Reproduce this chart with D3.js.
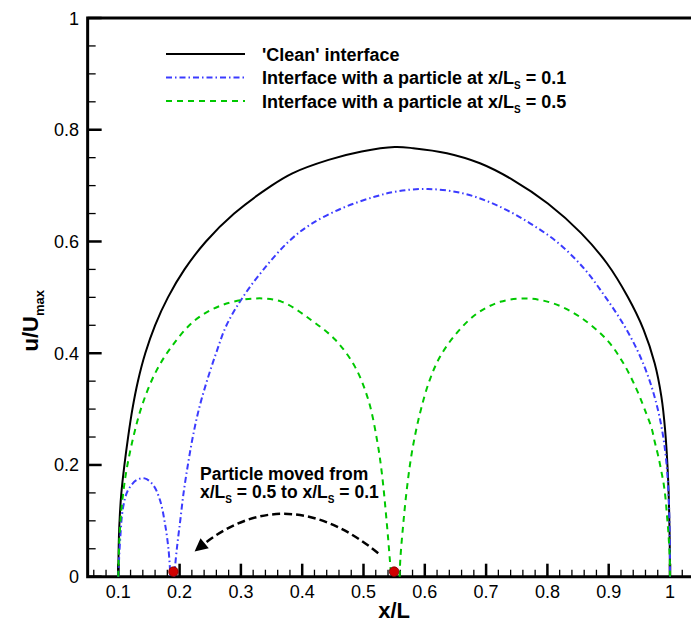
<!DOCTYPE html>
<html>
<head>
<meta charset="utf-8">
<script src="https://cdn.jsdelivr.net/npm/d3@7"></script>
<style>
  html, body { margin: 0; padding: 0; background: #fff; }
  svg { display: block; font-family: "Liberation Sans", Arial, sans-serif; }
</style>
</head>
<body>
<svg id="chart" width="691" height="627"></svg>
<script>
// Velocity profiles u/Umax across the interface, x/L from 0.1 to 1
const cleanProfile = [
  [0.100, 0.000], [0.1003, 0.030], [0.101, 0.070], [0.1025, 0.110], [0.105, 0.150],
  [0.110, 0.200], [0.116, 0.250], [0.123, 0.300], [0.132, 0.350], [0.144, 0.400],
  [0.160, 0.450], [0.181, 0.500], [0.208, 0.550], [0.243, 0.600], [0.289, 0.650],
  [0.350, 0.700], [0.384, 0.722], [0.443, 0.746], [0.497, 0.761], [0.551, 0.769],
  [0.581, 0.767], [0.636, 0.758], [0.690, 0.740], [0.744, 0.710], [0.8007, 0.668],
  [0.855, 0.615], [0.897, 0.561], [0.931, 0.501], [0.957, 0.442], [0.975, 0.382],
  [0.986, 0.322], [0.992, 0.263], [0.997, 0.173], [0.9993, 0.080], [1.000, 0.000]
];

const particleAt01 = [
  [0.100, 0.000], [0.103, 0.066], [0.108, 0.125], [0.116, 0.155], [0.130, 0.173],
  [0.143, 0.176], [0.157, 0.164], [0.168, 0.137], [0.176, 0.096], [0.182, 0.048],
  [0.185, 0.000], [0.191, 0.000],
  [0.1955, 0.050], [0.201, 0.100], [0.2065, 0.150], [0.2135, 0.200], [0.2215, 0.250],
  [0.2315, 0.300], [0.2445, 0.350], [0.2595, 0.400], [0.2765, 0.450], [0.303, 0.500],
  [0.337, 0.550], [0.378, 0.600], [0.413, 0.630], [0.466, 0.660], [0.518, 0.680],
  [0.556, 0.690], [0.605, 0.694], [0.663, 0.686], [0.717, 0.665], [0.771, 0.633],
  [0.818, 0.597], [0.861, 0.550], [0.895, 0.500], [0.925, 0.450], [0.949, 0.400],
  [0.967, 0.350], [0.980, 0.300], [0.989, 0.250], [0.9945, 0.200], [0.9975, 0.150],
  [0.9991, 0.100], [0.9998, 0.050], [1.000, 0.000]
];

const particleAt05 = [
  [0.100, 0.000], [0.1015, 0.060], [0.1055, 0.125], [0.1125, 0.185], [0.1235, 0.245],
  [0.138, 0.304], [0.160, 0.364], [0.187, 0.412], [0.225, 0.459], [0.269, 0.486],
  [0.323, 0.498], [0.367, 0.492], [0.415, 0.459], [0.454, 0.424], [0.486, 0.376],
  [0.508, 0.316], [0.522, 0.245], [0.530, 0.185], [0.538, 0.096], [0.543, 0.030],
  [0.545, 0.000], [0.559, 0.000],
  [0.560, 0.030], [0.5645, 0.090], [0.5705, 0.155], [0.579, 0.223], [0.592, 0.292],
  [0.608, 0.352], [0.625, 0.394], [0.652, 0.436], [0.685, 0.471], [0.723, 0.492],
  [0.766, 0.498], [0.810, 0.489], [0.853, 0.465], [0.897, 0.424], [0.924, 0.382],
  [0.946, 0.334], [0.962, 0.290], [0.970, 0.266], [0.975, 0.242], [0.981, 0.215],
  [0.986, 0.188], [0.990, 0.164], [0.993, 0.137], [0.995, 0.110], [0.997, 0.084],
  [0.9995, 0.036], [1.000, 0.000]
];

// Particle positions on the interface
const particles = [[0.19, 0.009], [0.55, 0.009]];

// Axis ticks
const xMajorTicks = [0.1, 0.2, 0.3, 0.4, 0.5, 0.6, 0.7, 0.8, 0.9, 1.0];
const xTickLabels = ["0.1", "0.2", "0.3", "0.4", "0.5", "0.6", "0.7", "0.8", "0.9", "1"];
const yMajorTicks = [0, 0.2, 0.4, 0.6, 0.8, 1.0];
const yTickLabels = ["0", "0.2", "0.4", "0.6", "0.8", "1"];

const legendLabels = [
  { main: "'Clean' interface", sub: null, tail: "" },
  { main: "Interface with a particle at x/L", sub: "S", tail: " = 0.1" },
  { main: "Interface with a particle at x/L", sub: "S", tail: " = 0.5" }
];

const svg = d3.select("#chart");

const x = d3.scaleLinear().domain([0.05, 1.05]).range([87.65, 700.65]);
const y = d3.scaleLinear().domain([0, 1]).range([576.7, 18]);

const xMinor = d3.range(0.06, 1.05, 0.02).filter(v => Math.abs(v * 10 - Math.round(v * 10)) > 1e-6);
const yMinor = d3.range(0.05, 1.0, 0.05).filter(v => Math.abs(v * 5 - Math.round(v * 5)) > 1e-6);

// Ticks (drawn inward)
const gTicks = svg.append("g").attr("stroke", "#000");
gTicks.selectAll("line.xmaj").data(xMajorTicks).join("line")
  .attr("x1", d => x(d)).attr("x2", d => x(d))
  .attr("y1", y(0)).attr("y2", y(0) - 13).attr("stroke-width", 2.5);
gTicks.selectAll("line.xmin").data(xMinor).join("line")
  .attr("x1", d => x(d)).attr("x2", d => x(d))
  .attr("y1", y(0)).attr("y2", y(0) - 7).attr("stroke-width", 1.3);
gTicks.selectAll("line.ymaj").data(yMajorTicks).join("line")
  .attr("x1", x(0.05)).attr("x2", x(0.05) + 14)
  .attr("y1", d => y(d)).attr("y2", d => y(d)).attr("stroke-width", 2.5);
gTicks.selectAll("line.ymin").data(yMinor).join("line")
  .attr("x1", x(0.05)).attr("x2", x(0.05) + 8)
  .attr("y1", d => y(d)).attr("y2", d => y(d)).attr("stroke-width", 1.3);

// Frame: left, top and bottom
const frame = svg.append("g").attr("stroke", "#000").attr("stroke-width", 3).attr("fill", "none");
frame.append("path").attr("d", `M${x(1.05)},${y(1)}H${x(0.05)}V${y(0)}H${x(1.05)}`)
  .attr("stroke-linecap", "square");

// Tick labels
svg.append("g").selectAll("text").data(xMajorTicks).join("text")
  .attr("x", d => x(d)).attr("y", 598)
  .attr("text-anchor", "middle").attr("font-size", 18)
  .text((d, i) => xTickLabels[i]);
svg.append("g").selectAll("text").data(yMajorTicks).join("text")
  .attr("x", 79).attr("y", d => y(d) + 6.5)
  .attr("text-anchor", "end").attr("font-size", 18)
  .text((d, i) => yTickLabels[i]);

// Axis titles
svg.append("text").attr("x", x(0.55)).attr("y", 618)
  .attr("text-anchor", "middle").attr("font-size", 22).attr("font-weight", "bold")
  .text("x/L");
const yTitle = svg.append("text")
  .attr("transform", `translate(38,${y(0.458)}) rotate(-90)`)
  .attr("text-anchor", "middle").attr("font-size", 22).attr("font-weight", "bold");
yTitle.append("tspan").text("u/U");
yTitle.append("tspan").attr("font-size", 13).attr("dy", 6).text("max");

// Split a profile into humps wherever it runs along the axis (u = 0 twice in a row)
function humps(data) {
  const out = [];
  let cur = [];
  data.forEach((p, i) => {
    cur.push(p);
    const next = data[i + 1];
    if (next && p[1] === 0 && next[1] === 0 && cur.length > 1) {
      out.push(cur);
      cur = [];
    }
  });
  if (cur.length > 1) out.push(cur);
  return out;
}

// Profiles
const line = d3.line().x(d => x(d[0])).y(d => y(d[1])).curve(d3.curveCatmullRom.alpha(0.5));
const series = [
  { data: cleanProfile, color: "#000000", width: 2, dash: null },
  { data: particleAt01, color: "#3b3bff", width: 2, dash: "6,3,1.5,3" },
  { data: particleAt05, color: "#00c800", width: 2, dash: "6,5" }
];
const gSeries = svg.append("g").selectAll("g").data(series).join("g")
  .attr("fill", "none")
  .attr("stroke", d => d.color)
  .attr("stroke-width", d => d.width)
  .attr("stroke-dasharray", d => d.dash);
gSeries.selectAll("path").data(d => humps(d.data)).join("path")
  .attr("d", d => line(d));

// Particles
svg.append("g").selectAll("circle").data(particles).join("circle")
  .attr("cx", d => x(d[0])).attr("cy", d => y(d[1])).attr("r", 4.8)
  .attr("fill", "#d10000").attr("stroke", "#7a0000").attr("stroke-width", 0.8);

// Legend
const legend = svg.append("g");
const rowY = [54, 77.5, 101];
legend.selectAll("line").data(series).join("line")
  .attr("x1", 166).attr("x2", 245)
  .attr("y1", (d, i) => rowY[i]).attr("y2", (d, i) => rowY[i])
  .attr("stroke", d => d.color).attr("stroke-width", d => d.width)
  .attr("stroke-dasharray", d => d.dash);
legendLabels.forEach((lab, i) => {
  const t = legend.append("text").attr("x", 262).attr("y", rowY[i] + 6.5)
    .attr("font-size", 18).attr("font-weight", "bold");
  t.append("tspan").text(lab.main);
  if (lab.sub) {
    t.append("tspan").attr("font-size", 10).attr("dy", 5).text(lab.sub);
    t.append("tspan").attr("dy", -5).text(lab.tail);
  }
});

// Annotation: particle displacement
const note = svg.append("g");
note.append("text").attr("x", 200).attr("y", 479.5)
  .attr("font-size", 17.5).attr("font-weight", "bold").text("Particle moved from");
const n2 = note.append("text").attr("x", 200).attr("y", 498)
  .attr("font-size", 17.5).attr("font-weight", "bold");
n2.append("tspan").text("x/L");
n2.append("tspan").attr("font-size", 10).attr("dy", 5).text("S");
n2.append("tspan").attr("dy", -5).text(" = 0.5 to x/L");
n2.append("tspan").attr("font-size", 10).attr("dy", 5).text("S");
n2.append("tspan").attr("dy", -5).text(" = 0.1");

// Curved dashed arrow from x/L ~ 0.52 back to ~ 0.23
const arrowStart = [0.524, 0.042], arrowEnd = [0.232, 0.052], arrowCtrl = [0.372, 0.178];
const ap = d3.path();
ap.moveTo(x(arrowStart[0]), y(arrowStart[1]));
ap.quadraticCurveTo(x(arrowCtrl[0]), y(arrowCtrl[1]), x(arrowEnd[0]), y(arrowEnd[1]));
note.append("path").attr("d", ap.toString())
  .attr("fill", "none").attr("stroke", "#000").attr("stroke-width", 2.5)
  .attr("stroke-dasharray", "8,4");
// arrow head pointing along the curve tangent at its end
const ex = x(arrowEnd[0]), ey = y(arrowEnd[1]);
const ang = Math.atan2(ey - y(arrowCtrl[1]), ex - x(arrowCtrl[0]));
const hl = 13, hw = 6.5;
const tipX = ex + Math.cos(ang) * 6, tipY = ey + Math.sin(ang) * 6;
const bx = tipX - Math.cos(ang) * hl, by = tipY - Math.sin(ang) * hl;
note.append("path")
  .attr("d", `M${tipX},${tipY}L${bx - Math.sin(ang) * hw},${by + Math.cos(ang) * hw}L${bx + Math.sin(ang) * hw},${by - Math.cos(ang) * hw}Z`)
  .attr("fill", "#000");
</script>
</body>
</html>
